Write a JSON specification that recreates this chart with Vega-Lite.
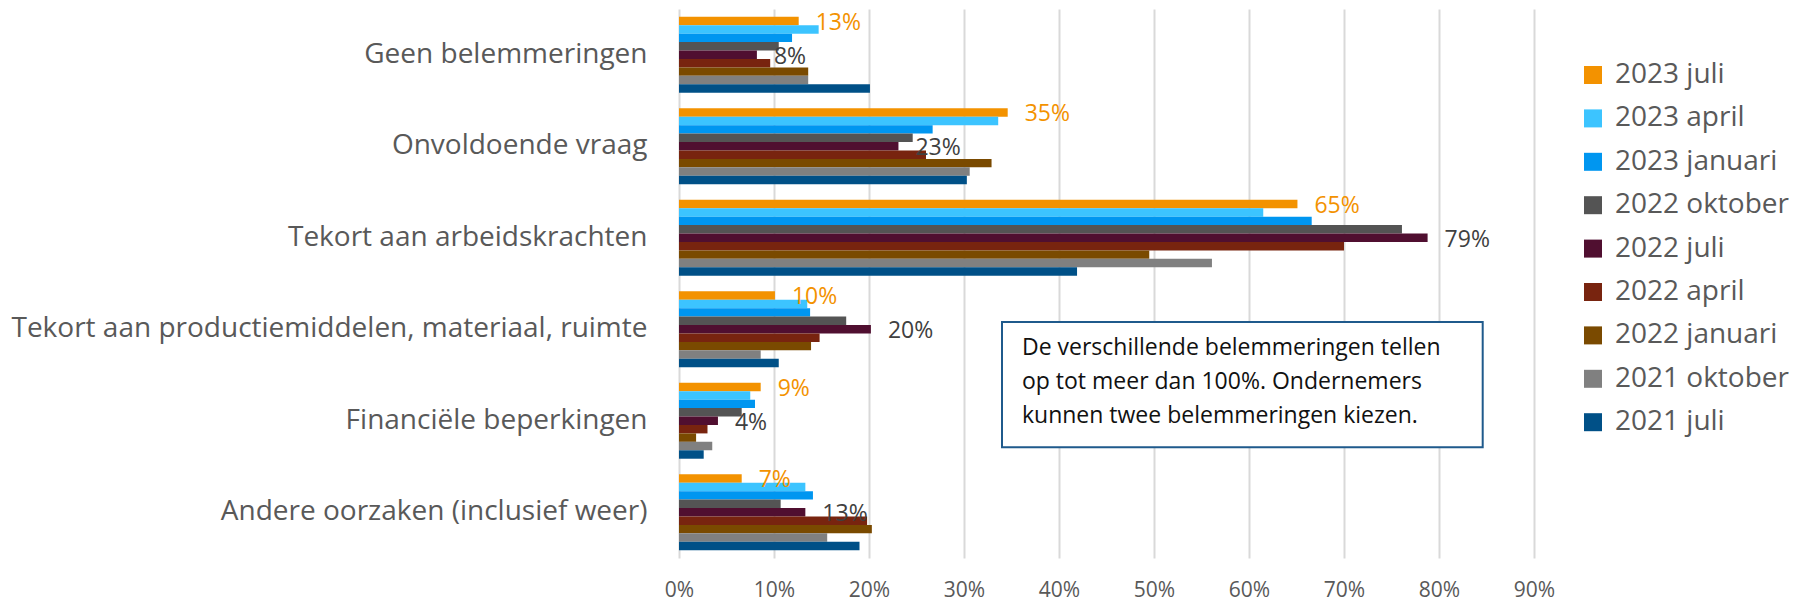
{
  "$schema": "https://vega.github.io/schema/vega-lite/v6.json",
  "width": 855,
  "height": 549,
  "autosize": {"type": "none"},
  "padding": {"left": 679, "top": 9, "right": 262, "bottom": 43},
  "background": "white",
  "config": {
    "view": {"stroke": null},
    "font": "Open Sans",
    "axisX": {"title": null, "format": ".0%", "values": [0, 0.1, 0.2, 0.3, 0.4, 0.5, 0.6, 0.7, 0.8, 0.9], "labelOverlap": false, "labelFlush": false, "ticks": false, "domain": false, "grid": true, "gridColor": "#d9d9d9", "gridWidth": 2, "labelPadding": 21, "labelFontSize": 21, "labelColor": "#595959", "labelFont": "Open Sans"}
  },
  "datasets": {
    "main": [
      {"cat": "Geen belemmeringen", "series": "2023 juli", "value": 0.126},
      {"cat": "Geen belemmeringen", "series": "2023 april", "value": 0.147},
      {"cat": "Geen belemmeringen", "series": "2023 januari", "value": 0.119},
      {"cat": "Geen belemmeringen", "series": "2022 oktober", "value": 0.105},
      {"cat": "Geen belemmeringen", "series": "2022 juli", "value": 0.082},
      {"cat": "Geen belemmeringen", "series": "2022 april", "value": 0.096},
      {"cat": "Geen belemmeringen", "series": "2022 januari", "value": 0.136},
      {"cat": "Geen belemmeringen", "series": "2021 oktober", "value": 0.136},
      {"cat": "Geen belemmeringen", "series": "2021 juli", "value": 0.201},
      {"cat": "Onvoldoende vraag", "series": "2023 juli", "value": 0.346},
      {"cat": "Onvoldoende vraag", "series": "2023 april", "value": 0.336},
      {"cat": "Onvoldoende vraag", "series": "2023 januari", "value": 0.267},
      {"cat": "Onvoldoende vraag", "series": "2022 oktober", "value": 0.246},
      {"cat": "Onvoldoende vraag", "series": "2022 juli", "value": 0.231},
      {"cat": "Onvoldoende vraag", "series": "2022 april", "value": 0.26},
      {"cat": "Onvoldoende vraag", "series": "2022 januari", "value": 0.329},
      {"cat": "Onvoldoende vraag", "series": "2021 oktober", "value": 0.306},
      {"cat": "Onvoldoende vraag", "series": "2021 juli", "value": 0.303},
      {"cat": "Tekort aan arbeidskrachten", "series": "2023 juli", "value": 0.651},
      {"cat": "Tekort aan arbeidskrachten", "series": "2023 april", "value": 0.615},
      {"cat": "Tekort aan arbeidskrachten", "series": "2023 januari", "value": 0.666},
      {"cat": "Tekort aan arbeidskrachten", "series": "2022 oktober", "value": 0.761},
      {"cat": "Tekort aan arbeidskrachten", "series": "2022 juli", "value": 0.788},
      {"cat": "Tekort aan arbeidskrachten", "series": "2022 april", "value": 0.70},
      {"cat": "Tekort aan arbeidskrachten", "series": "2022 januari", "value": 0.495},
      {"cat": "Tekort aan arbeidskrachten", "series": "2021 oktober", "value": 0.561},
      {"cat": "Tekort aan arbeidskrachten", "series": "2021 juli", "value": 0.419},
      {"cat": "Tekort aan productiemiddelen, materiaal, ruimte", "series": "2023 juli", "value": 0.101},
      {"cat": "Tekort aan productiemiddelen, materiaal, ruimte", "series": "2023 april", "value": 0.135},
      {"cat": "Tekort aan productiemiddelen, materiaal, ruimte", "series": "2023 januari", "value": 0.138},
      {"cat": "Tekort aan productiemiddelen, materiaal, ruimte", "series": "2022 oktober", "value": 0.176},
      {"cat": "Tekort aan productiemiddelen, materiaal, ruimte", "series": "2022 juli", "value": 0.202},
      {"cat": "Tekort aan productiemiddelen, materiaal, ruimte", "series": "2022 april", "value": 0.148},
      {"cat": "Tekort aan productiemiddelen, materiaal, ruimte", "series": "2022 januari", "value": 0.139},
      {"cat": "Tekort aan productiemiddelen, materiaal, ruimte", "series": "2021 oktober", "value": 0.086},
      {"cat": "Tekort aan productiemiddelen, materiaal, ruimte", "series": "2021 juli", "value": 0.105},
      {"cat": "Financiële beperkingen", "series": "2023 juli", "value": 0.086},
      {"cat": "Financiële beperkingen", "series": "2023 april", "value": 0.075},
      {"cat": "Financiële beperkingen", "series": "2023 januari", "value": 0.08},
      {"cat": "Financiële beperkingen", "series": "2022 oktober", "value": 0.066},
      {"cat": "Financiële beperkingen", "series": "2022 juli", "value": 0.041},
      {"cat": "Financiële beperkingen", "series": "2022 april", "value": 0.03},
      {"cat": "Financiële beperkingen", "series": "2022 januari", "value": 0.018},
      {"cat": "Financiële beperkingen", "series": "2021 oktober", "value": 0.035},
      {"cat": "Financiële beperkingen", "series": "2021 juli", "value": 0.026},
      {"cat": "Andere oorzaken (inclusief weer)", "series": "2023 juli", "value": 0.066},
      {"cat": "Andere oorzaken (inclusief weer)", "series": "2023 april", "value": 0.133},
      {"cat": "Andere oorzaken (inclusief weer)", "series": "2023 januari", "value": 0.141},
      {"cat": "Andere oorzaken (inclusief weer)", "series": "2022 oktober", "value": 0.107},
      {"cat": "Andere oorzaken (inclusief weer)", "series": "2022 juli", "value": 0.133},
      {"cat": "Andere oorzaken (inclusief weer)", "series": "2022 april", "value": 0.198},
      {"cat": "Andere oorzaken (inclusief weer)", "series": "2022 januari", "value": 0.203},
      {"cat": "Andere oorzaken (inclusief weer)", "series": "2021 oktober", "value": 0.156},
      {"cat": "Andere oorzaken (inclusief weer)", "series": "2021 juli", "value": 0.19}
    ]
  },
  "data": {"name": "main"},
  "resolve": {"scale": {"y": "independent"}},
  "layer": [
    {
      "mark": {"type": "bar"},
      "encoding": {
        "y": {
          "field": "cat", "type": "nominal",
          "sort": ["Geen belemmeringen", "Onvoldoende vraag", "Tekort aan arbeidskrachten", "Tekort aan productiemiddelen, materiaal, ruimte", "Financiële beperkingen", "Andere oorzaken (inclusief weer)"],
          "scale": {"paddingInner": 0.17, "paddingOuter": 0.085},
          "axis": {"title": null, "ticks": false, "domain": false, "labelPadding": 32, "labelLimit": 0, "labelFontSize": 28, "labelColor": "#595959", "labelFont": "Open Sans"}
        },
        "yOffset": {
          "field": "series", "type": "nominal",
          "sort": ["2023 juli", "2023 april", "2023 januari", "2022 oktober", "2022 juli", "2022 april", "2022 januari", "2021 oktober", "2021 juli"]
        },
        "x": {
          "field": "value", "type": "quantitative",
          "scale": {"domain": [0, 0.9], "nice": false},
          "axis": {"values": [0, 0.1, 0.2, 0.3, 0.4, 0.5, 0.6, 0.7, 0.8, 0.9], "format": ".0%", "labelOverlap": false, "labelFlush": false}
        },
        "color": {
          "field": "series", "type": "nominal",
          "scale": {
            "domain": ["2023 juli", "2023 april", "2023 januari", "2022 oktober", "2022 juli", "2022 april", "2022 januari", "2021 oktober", "2021 juli"],
            "range": ["#F39200", "#3CC4FF", "#0096F0", "#545454", "#500F30", "#78240F", "#7A4A00", "#808080", "#005087"]
          },
          "legend": {"title": null, "orient": "none", "legendX": 900, "legendY": 52, "symbolType": "square", "symbolSize": 324, "symbolStrokeWidth": 0, "labelFontSize": 28, "labelColor": "#595959", "labelFont": "Open Sans", "labelOffset": 8, "rowPadding": 15.4, "labelLimit": 0}
        }
      }
    },
    {
      "mark": {"type": "text", "align": "left", "baseline": "middle", "dx": 17, "dy": 2, "fontSize": 23, "font": "Open Sans"},
      "encoding": {
        "y": {
          "field": "cat", "type": "nominal",
          "sort": ["Geen belemmeringen", "Onvoldoende vraag", "Tekort aan arbeidskrachten", "Tekort aan productiemiddelen, materiaal, ruimte", "Financiële beperkingen", "Andere oorzaken (inclusief weer)"],
          "scale": {"paddingInner": 0.17, "paddingOuter": 0.085},
          "axis": null
        },
        "yOffset": {
          "field": "series", "type": "nominal",
          "sort": ["2023 juli", "2023 april", "2023 januari", "2022 oktober", "2022 juli", "2022 april", "2022 januari", "2021 oktober", "2021 juli"]
        },
        "x": {"field": "value", "type": "quantitative", "axis": {"values": [0, 0.1, 0.2, 0.3, 0.4, 0.5, 0.6, 0.7, 0.8, 0.9], "format": ".0%", "labelOverlap": false, "labelFlush": false}},
        "text": {"field": "value", "type": "quantitative", "format": ".0%"},
        "color": {"condition": {"test": "datum.series === '2023 juli'", "value": "#F39200"}, "value": "#404040"},
        "opacity": {"condition": {"test": "datum.series === '2023 juli' || datum.series === '2022 juli'", "value": 1}, "value": 0}
      }
    },
    {
      "data": {"values": [{}]},
      "mark": {"type": "rect", "fill": "white", "stroke": "#1F5A8C", "strokeWidth": 2},
      "encoding": {
        "x": {"datum": 0.34, "type": "quantitative", "axis": {"values": [0, 0.1, 0.2, 0.3, 0.4, 0.5, 0.6, 0.7, 0.8, 0.9], "format": ".0%", "labelOverlap": false, "labelFlush": false}},
        "x2": {"datum": 0.846},
        "y": {"datum": 3.42, "type": "quantitative", "scale": {"domain": [0, 6], "reverse": true, "nice": false, "zero": false}, "axis": null},
        "y2": {"datum": 4.79}
      }
    },
    {
      "data": {"values": [{}]},
      "mark": {"type": "text", "align": "left", "baseline": "middle", "fontSize": 23, "lineHeight": 34, "font": "Open Sans", "color": "#111111",
        "text": ["De verschillende belemmeringen tellen", "op tot meer dan 100%. Ondernemers", "kunnen twee belemmeringen kiezen."]},
      "encoding": {
        "x": {"datum": 0.361, "type": "quantitative", "axis": {"values": [0, 0.1, 0.2, 0.3, 0.4, 0.5, 0.6, 0.7, 0.8, 0.9], "format": ".0%", "labelOverlap": false, "labelFlush": false}},
        "y": {"datum": 3.705, "type": "quantitative", "scale": {"domain": [0, 6], "reverse": true, "nice": false, "zero": false}, "axis": null}
      }
    }
  ]
}
